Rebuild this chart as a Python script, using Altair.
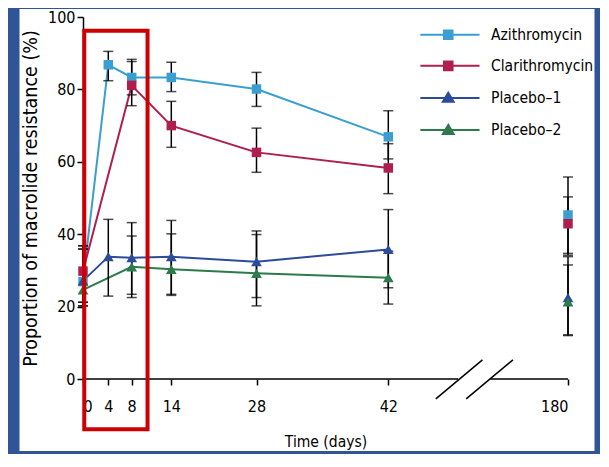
import altair as alt
import pandas as pd

# ---------------- data ----------------
series = ["Azithromycin", "Clarithromycin", "Placebo–1", "Placebo–2"]
colors = ["#3A9FD0", "#B01E4F", "#2B4C9B", "#2D7A4C"]

azi_days = [0, 4, 8, 14, 28, 42, 180]
azi_val = [26.9, 86.8, 83.3, 83.3, 80.1, 66.9, 45.3]
azi_lo = [20.2, 82.4, 78.5, 79.4, 75.3, 60.8, 34.7]
azi_hi = [35.9, 90.5, 88.3, 87.5, 84.7, 74.1, 55.8]

cla_days = [0, 8, 14, 28, 42, 180]
cla_val = [29.8, 81.1, 70.0, 62.6, 58.3, 42.9]
cla_lo = [21.2, 75.5, 64.0, 57.1, 51.2, 34.2]
cla_hi = [36.8, 87.7, 76.7, 69.3, 65.0, 50.3]

p1_days = [0, 4, 8, 14, 28, 42, 180]
p1_val = [27.1, 33.8, 33.5, 33.8, 32.4, 35.8, 22.5]
p1_lo = [20.2, 22.9, 23.4, 23.4, 22.5, 25.2, 12.2]
p1_hi = [35.9, 44.1, 43.2, 43.8, 40.9, 46.8, 33.8]

p2_days = [0, 8, 14, 28, 42, 180]
p2_val = [24.6, 31.0, 30.3, 29.2, 28.0, 21.3]
p2_lo = [21.2, 22.5, 23.1, 20.2, 20.7, 12.0]
p2_hi = [36.8, 39.5, 40.1, 39.9, 35.3, 31.5]

x_ticks = [0, 4, 8, 14, 28, 42, 180]
y_ticks = [0, 20, 40, 60, 80, 100]
late_day = 180  # follow-up visit after the axis break (not joined by lines)

# broken time axis: piecewise scale positions (px from plot left)
x_domain = [0, 4, 8, 14, 28, 42, 180]
x_range = [0, 25.3, 48.7, 88.3, 173.5, 305.3, 485]

# annotation geometry in data units
axis_seg_start = [0, 120.2]
axis_seg_end = [95.6, 180]
break_x1 = [78.5, 101.8]
break_x2 = [114.3, 137.7]
break_y1 = [-5.5, -5.5]
break_y2 = [5.3, 5.3]
box_x = [0.2, 10.4]
box_y = [-13.9, 96.2]

# legend symbols: line + marker (custom paths)
sq = "M-0.95,-0.95H0.95V0.95H-0.95Z"
tri = "M0,-1.15L1.2,0.85H-1.2Z"
line = "M-6.2,0H6.95"
legend_paths = [line + sq, line + sq, line + tri, line + tri]

# ---------------- tables ----------------
rows = []
for name, d, v, lo, hi in [
    (series[0], azi_days, azi_val, azi_lo, azi_hi),
    (series[1], cla_days, cla_val, cla_lo, cla_hi),
    (series[2], p1_days, p1_val, p1_lo, p1_hi),
    (series[3], p2_days, p2_val, p2_lo, p2_hi),
]:
    for i in range(len(d)):
        seg = name + ("_late" if d[i] == late_day else "")
        rows.append({"series": name, "seg": seg, "day": d[i], "value": v[i],
                     "lo": lo[i], "hi": hi[i]})
df = pd.DataFrame(rows)

axis_df = pd.DataFrame({"x1": axis_seg_start, "x2": axis_seg_end, "y": [0, 0]})
break_df = pd.DataFrame({"x1": break_x1, "x2": break_x2, "y1": break_y1, "y2": break_y2})
box_df = pd.DataFrame({"x1": [box_x[0]], "x2": [box_x[1]], "y1": [box_y[0]], "y2": [box_y[1]]})

FONT = "DejaVu Sans Condensed, Liberation Sans, Arial, sans-serif"
FRAME = "#2F5597"

xs = alt.Scale(domain=x_domain, range=x_range, nice=False, zero=False)
ys = alt.Scale(domain=[0, 100], nice=False, zero=False)

x_axis = alt.Axis(values=x_ticks, domain=False, grid=False, tickSize=6, tickWidth=1.5,
                  tickColor="black", labelFont=FONT, labelFontSize=16, labelColor="black",
                  labelPadding=13.5, title="Time (days)", titleFont=FONT, titleFontSize=15.5,
                  titleFontWeight="normal", titleColor="black", titlePadding=20)
y_axis = alt.Axis(values=y_ticks, domain=True, domainColor="black", domainWidth=1.5, grid=False,
                  tickSize=6, tickWidth=1.5, tickColor="black", labelFont=FONT, labelFontSize=16,
                  labelColor="black", labelPadding=2,
                  title="Proportion of macrolide resistance (%)", titleFont=FONT,
                  titleFontSize=19.5, titleFontWeight="normal", titleColor="black", titlePadding=7)

X = alt.X("day:Q", scale=xs, axis=x_axis)
Y = alt.Y("value:Q", scale=ys, axis=y_axis)
col_scale = alt.Scale(domain=series, range=colors)

base = alt.Chart(df)

lines = base.mark_line(strokeWidth=2).encode(
    x=X, y=Y, color=alt.Color("series:N", scale=col_scale, legend=None), detail="seg:N"
)
err = base.mark_rule(color="black", strokeWidth=1.5).encode(
    x=alt.X("day:Q", scale=xs), y=alt.Y("lo:Q", scale=ys), y2="hi:Q"
)
cap_lo = base.mark_tick(orient="horizontal", color="black", thickness=1.5, size=10).encode(
    x=alt.X("day:Q", scale=xs), y=alt.Y("lo:Q", scale=ys)
)
cap_hi = base.mark_tick(orient="horizontal", color="black", thickness=1.5, size=10).encode(
    x=alt.X("day:Q", scale=xs), y=alt.Y("hi:Q", scale=ys)
)
squares = base.transform_filter(
    alt.FieldOneOfPredicate(field="series", oneOf=series[:2])
).mark_point(filled=True, shape="square", size=90, opacity=1).encode(
    x=X, y=Y, color=alt.Color("series:N", scale=col_scale, legend=None)
)
triangles = base.transform_filter(
    alt.FieldOneOfPredicate(field="series", oneOf=series[2:])
).mark_point(filled=True, shape="triangle-up", size=115, opacity=1).encode(
    x=X, y=Y, color=alt.Color("series:N", scale=col_scale, legend=None)
)

leg = alt.Legend(title=None, orient="none", legendX=357.5, legendY=10, padding=0,
                 labelFont=FONT, labelFontSize=15.5, labelColor="black", symbolSize=81,
                 symbolStrokeWidth=2, symbolOpacity=1, labelOffset=35, rowPadding=13.1,
                 labelLimit=200)
legend_layer = base.mark_point(filled=True, opacity=0, strokeWidth=2).encode(
    x=X, y=Y,
    fill=alt.Fill("series:N", scale=col_scale, legend=leg),
    stroke=alt.Stroke("series:N", scale=col_scale, legend=leg),
    shape=alt.Shape("series:N", scale=alt.Scale(domain=series, range=legend_paths), legend=leg),
)

axis_line = alt.Chart(axis_df).mark_rule(color="black", strokeWidth=1.5).encode(
    x=alt.X("x1:Q", scale=xs), x2="x2:Q", y=alt.Y("y:Q", scale=ys)
)
breaks = alt.Chart(break_df).mark_rule(color="black", strokeWidth=1.5).encode(
    x=alt.X("x1:Q", scale=xs), x2="x2:Q", y=alt.Y("y1:Q", scale=ys), y2="y2:Q"
)
box = alt.Chart(box_df).mark_rect(fill=None, stroke="#CC0000", strokeWidth=4).encode(
    x=alt.X("x1:Q", scale=xs), x2="x2:Q", y=alt.Y("y1:Q", scale=ys), y2="y2:Q"
)

one = alt.Data(values=[{"k": 1}])
def frame(x1, x2, y1, y2):
    return alt.Chart(one).mark_rect(color=FRAME).encode(
        x=alt.value(x1), x2=alt.value(x2), y=alt.value(y1), y2=alt.value(y2)
    )

frames = [frame(-75, -63.5, -9, 437), frame(511.5, 517, -9, 437),
          frame(-75, 517, -9, -8), frame(-75, 517, 434, 437)]

chart = alt.layer(
    legend_layer, lines, err, cap_lo, cap_hi, squares, triangles,
    axis_line, breaks, box, *frames
).properties(
    width=485, height=362,
    autosize=alt.AutoSizeParams(type="none"),
    padding={"left": 75, "top": 9, "right": 32, "bottom": 75},
    background="white",
).configure_view(stroke=None)

chart.save("out.html", embed_options={"renderer": "svg", "actions": False})
